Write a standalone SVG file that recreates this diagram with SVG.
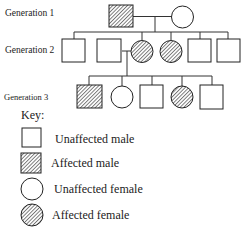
<svg xmlns="http://www.w3.org/2000/svg" width="245" height="228" viewBox="0 0 245 228">
<defs>
<pattern id="hatch" width="2.6" height="2.6" patternUnits="userSpaceOnUse" patternTransform="rotate(45)">
<line x1="0.5" y1="0" x2="0.5" y2="2.6" stroke="#444" stroke-width="0.7"/>
</pattern>
</defs>
<style>
.s{fill:#fff;stroke:#222;stroke-width:1}
.a{fill:url(#hatch);stroke:#222;stroke-width:1}
.l{fill:none;stroke:#333;stroke-width:1}
.t{font-family:"Liberation Serif",serif;fill:#222}
.g{font-size:9.5px}
.k{font-size:12px}
</style>
<rect width="245" height="228" fill="#fff"/>
<g id="connectors">
<path class="l" d="M133,16.5H172 M155,16.5V32 M74,32H228 M74,32V39 M142,32V40 M171,32V40 M200,32V39 M228,32V39 M122,51H131 M127,51V76 M89,76H212 M89,76V85 M122,76V86 M152,76V85 M182,76V86 M212,76V85"/>
</g>
<g id="labels">
<text class="t g" x="5" y="16">Generation 1</text>
<text class="t g" x="5" y="53">Generation 2</text>
<text class="t" x="4" y="100" font-size="8.5">Generation 3</text>
</g>
<g id="g1-male"><rect class="a" x="109" y="5" width="24" height="22"/></g>
<g id="g1-female"><circle class="s" cx="182.5" cy="17" r="11"/></g>
<g id="g2-1"><rect class="s" x="62" y="39" width="23" height="23"/></g>
<g id="g2-2"><rect class="s" x="97" y="39" width="24" height="23"/></g>
<g id="g2-3"><circle class="a" cx="142" cy="51.5" r="11"/></g>
<g id="g2-4"><circle class="a" cx="171" cy="51.5" r="11"/></g>
<g id="g2-5"><rect class="s" x="188" y="39" width="23" height="23"/></g>
<g id="g2-6"><rect class="s" x="217" y="39" width="23" height="23"/></g>
<g id="g3-1"><rect class="a" x="77" y="85" width="25" height="23"/></g>
<g id="g3-2"><circle class="s" cx="122" cy="97" r="11"/></g>
<g id="g3-3"><rect class="s" x="140" y="85" width="23" height="23"/></g>
<g id="g3-4"><circle class="a" cx="182" cy="97" r="11"/></g>
<g id="g3-5"><rect class="s" x="200" y="85" width="23" height="24"/></g>
<g id="key">
<text class="t k" x="21" y="119">Key:</text>
<rect class="s" x="22" y="128" width="19" height="19"/>
<text class="t k" x="55" y="143">Unaffected male</text>
<rect class="a" x="21" y="153" width="20" height="20"/>
<text class="t k" x="51" y="167">Affected male</text>
<circle class="s" cx="32" cy="189" r="11"/>
<text class="t k" x="54" y="193">Unaffected female</text>
<circle class="a" cx="32" cy="215" r="11"/>
<text class="t k" x="52" y="219">Affected female</text>
</g>
</svg>
